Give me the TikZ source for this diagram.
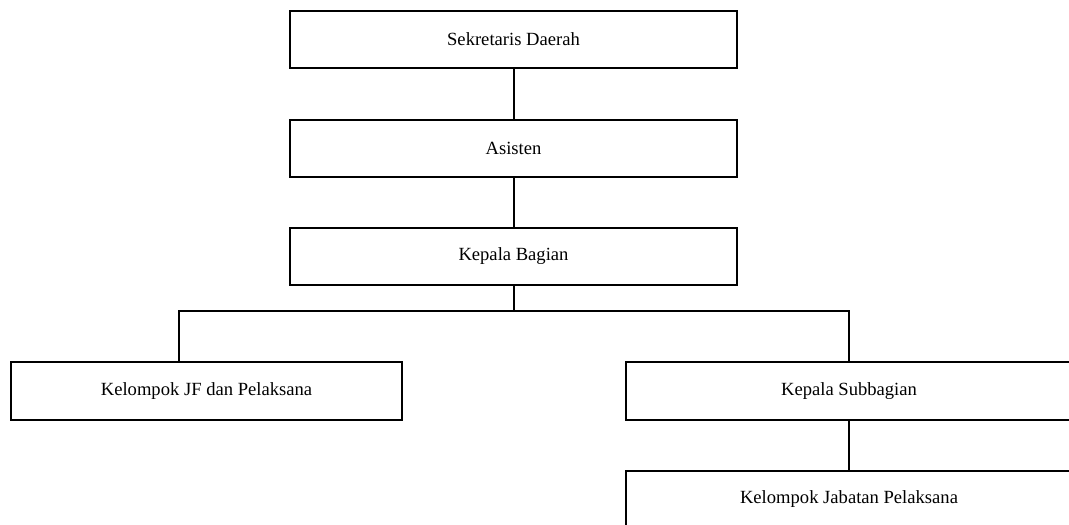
\documentclass[tikz,border=0pt]{standalone}
\usepackage{fontspec}
\setmainfont{Liberation Serif}
\begin{document}
\begin{tikzpicture}[x=0.5pt,y=-0.5pt,
  orgbox/.style={draw,line width=1pt,rectangle,inner sep=0pt,
    font=\fontsize{9.3}{11}\selectfont},
  conn/.style={line width=1pt}]
\useasboundingbox (0,0) rectangle (1069,524);
\clip (0,0) rectangle (1069,524);
\node[orgbox,minimum width=223.5pt,minimum height=28.5pt] (sek) at (513.5,39.5) {Sekretaris Daerah};
\node[orgbox,minimum width=223.5pt,minimum height=28.5pt] (asi) at (513.5,148.5) {Asisten};
\node[orgbox,minimum width=223.5pt,minimum height=28.5pt] (kab) at (513.5,256.5) {Kepala Bagian};
\node[orgbox,minimum width=195.5pt,minimum height=29pt] (jf) at (206.5,391) {Kelompok JF dan Pelaksana};
\node[orgbox,minimum width=223pt,minimum height=29pt] (ksb) at (849,391) {Kepala Subbagian};
\node[orgbox,minimum width=223pt,minimum height=28.5pt] (kjp) at (849,499.5) {Kelompok Jabatan Pelaksana};
\coordinate (bus) at (513.5,311);
\coordinate (jfx) at (179,311);
\draw[conn] (sek.south) -- (asi.north);
\draw[conn] (asi.south) -- (kab.north);
\draw[conn] (kab.south) -- (bus);
\draw[conn] (jf.north -| jfx) -- (jfx) -- (bus) -| (ksb.north);
\draw[conn] (ksb.south) -- (kjp.north);
\end{tikzpicture}
\end{document}
